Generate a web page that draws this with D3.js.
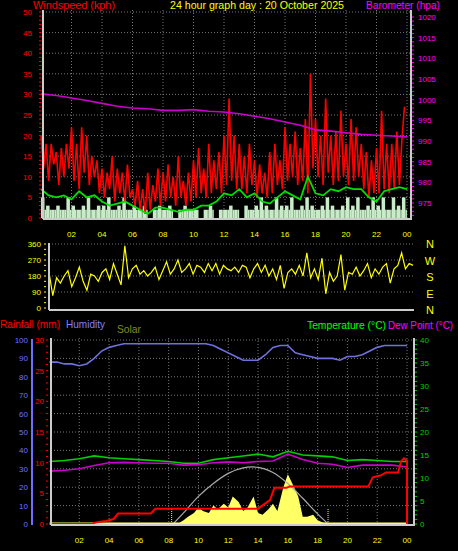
<!DOCTYPE html>
<html><head><meta charset="utf-8">
<script src="https://cdn.jsdelivr.net/npm/d3@7"></script>
<style>body{margin:0;background:#000}svg{display:block}text{font-family:"Liberation Sans",Arial,sans-serif}</style>
</head><body><svg id="chart" width="458" height="551"></svg>
<script>
// ---- data ----
var hourTicks = [2,4,6,8,10,12,14,16,18,20,22,24];
// gusts every 10 min
var gust = [20,12,18,9,18,13, 16,8,17,10,18,12, 22,9,18,7,22,11, 20,8,15,10,14,6,
  12,5,11,7,15,4, 12,6,11,4,13,5, 7,3,9,2,7,1, 11,2,8,4,12,3,
  11,4,13,5,10,3, 15,5,9,3,11,4, 14,5,17,6,12,5, 18,6,14,7,16,6,
  20,8,29,9,20,7, 18,7,15,6,18,8, 14,5,13,6,11,5, 16,6,18,8,14,7,
  22,9,18,10,21,8, 17,9,24,6,35,12, 24,10,20,8,29,11, 20,8,21,9,26,10,
  18,8,24,9,22,10, 18,7,16,5,14,6, 17,6,26,7,18,6, 18,7,21,8,19,27];
// average wind every 30 min
var avgWind = [7,5.5,5,5.5,4.5,6.5,5,5.5,4,3,3.5,4,3,2,1,2.5,2.5,2,1.5,2,2,3,3,4,
  6,5.5,7,5,6,4,3.5,5,6.5,5.5,4.5,10,6,5.5,7,6.5,7.5,7,7,5,4,6.5,7,7.5,7];
// wind speed every 20 min
var windSpeed = [5,3,2,3,2,5, 3,2,3,5,2,3, 3,5,2,3,5,2, 3,2,3,0,2,3, 2,3,0,2,3,2, 2,0,2,3,0,2,
  2,3,2,0,3,2, 3,5,3,2,5,3, 3,5,2,3,5,3, 2,3,5,3,2,3, 5,3,5,2,3,5, 3,5,2,5,3,5];
// barometer hourly
var baro = [1001.4,1001,1000.4,999.8,999.1,998.4,998.0,997.8,997.4,997.4,997.6,997.2,997.0,
  996.6,996.0,995.4,994.6,993.8,992.7,992.4,992.0,991.6,991.4,991.2,991.0];
// wind direction every 15 min
var windDir = [200,70,170,140, 180,210,120,170, 230,150,100,190, 180,150,200,220, 160,250,190,130,
  350,170,220,240, 190,210,180,200, 230,160,210,260, 190,220,270,200, 220,250,190,240,
  230,200,250,210, 250,190,240,220, 210,230,200,240, 230,170,220,250, 200,240,180,220,
  160,240,110,200, 220,190,240,180, 310,170,220,160, 280,80,200,150, 180,300,100,200,
  190,230,180,210, 250,170,220,190, 230,250,140,220, 240,310,220,250, 240];
// humidity every 30 min
var humidity = [88,88,87,87,86,87,90,94,96,97,98,98,98,98,98,98,98,98,98,98,98,98,97,95,
  93,91,89,89,89,92,96,97,97,93,92,91,90,90,90,89,91,91,92,94,96,97,97,97,97];
var temperature = [13.6,13.8,14.2,14.8,14.4,14.2,14.0,13.8,13.6,13.2,13.2,14.0,14.4,14.8,15.2,14.6,
  15.8,15.0,14.8,14.6,13.8,14.0,13.8,13.6,13.6];
var dewPoint = [11.5,11.7,12.0,12.7,13.3,13.4,13.3,13.2,13.2,12.8,12.9,13.3,13.5,13.3,13.6,13.7,
  15.2,14.0,13.2,13.0,12.3,12.8,12.8,12.8,12.4];
var rainT = [0,2.8,3.2,3.8,4.3,4.6,6.8,7.1,14,14.4,14.8,15.1,15.9,16.1,21.4,21.7,22.2,22.6,23.4,23.6,23.8,24,24];
var rainV = [0,0,0.3,0.5,0.8,1.7,1.7,2.5,2.5,3.2,3.9,5.9,5.9,6.1,6.1,7.6,7.9,8.4,8.4,10.2,10.7,10.3,0];
var solarT = [8.3,8.7,9,9.3,9.7,10,10.3,10.7,11,11.3,11.7,12,12.3,12.7,13,13.3,13.7,14,14.3,14.7,15,15.3,15.7,16,16.3,16.7,17,17.3,17.7,18,18.3,18.7];
var solarV = [0,5,20,40,60,90,70,60,100,80,110,90,150,120,70,90,150,60,50,80,110,70,200,270,220,150,40,40,50,20,10,0];
var solarMaxT = [8.3,9,10,11,12,13,13.6,14,15,16,17,18,18.7];
var solarMaxV = [0,60,150,220,275,305,310,308,280,220,140,55,0];
var sunTimes = [8.2, 18.7];

var svg = d3.select("#chart");
svg.append("rect").attr("width",458).attr("height",551).attr("fill","#000");
var fs = "8px";
function T(arr, step){ return arr.map(function(v,i){return [i*step, v];}); }

function grid(g, x, y, yTicks, x0, x1, y0, y1){
  g.selectAll(".gx").data(hourTicks).enter().append("line")
    .attr("x1",function(d){return x(d);}).attr("x2",function(d){return x(d);})
    .attr("y1",y0).attr("y2",y1).attr("stroke","#777").attr("stroke-dasharray","1,2");
  g.selectAll(".gy").data(yTicks).enter().append("line")
    .attr("x1",x0).attr("x2",x1).attr("y1",function(d){return y(d);}).attr("y2",function(d){return y(d);})
    .attr("stroke","#777").attr("stroke-dasharray","1,2");
}
function frame(x0,x1,y0,y1){
  svg.append("line").attr("x1",x0).attr("x2",x0).attr("y1",y0).attr("y2",y1+1).attr("stroke","#ccc").attr("stroke-width",2);
  svg.append("line").attr("x1",x0).attr("x2",x1).attr("y1",y1+1).attr("y2",y1+1).attr("stroke","#ccc").attr("stroke-width",2);
}
function vAxis(scale, ticks, xPos, color, anchorEnd, minor, tickX){
  var g = svg.append("g");
  g.selectAll("text").data(ticks).enter().append("text")
    .attr("x",xPos).attr("y",function(d){return scale(d)+3;})
    .attr("text-anchor",anchorEnd?"end":"start").attr("fill",color).style("font-size",fs)
    .text(function(d){return d;});
  if (minor) {
    g.selectAll("line").data(minor).enter().append("line")
      .attr("x1",tickX).attr("x2",tickX+2).attr("y1",function(d){return scale(d);}).attr("y2",function(d){return scale(d);})
      .attr("stroke",color);
  }
}
function hourLabels(x, yPos){
  svg.append("g").selectAll("text").data(hourTicks).enter().append("text")
    .attr("x",function(d){return x(d);}).attr("y",yPos).attr("text-anchor","middle")
    .attr("fill","#ffff00").style("font-size",fs).text(function(d){return d3.format("02")(d%24);});
}
function title(x, y, color, txt, len){
  svg.append("text").attr("x",x).attr("y",y).attr("fill",color)
    .attr("textLength",len).attr("lengthAdjust","spacingAndGlyphs")
    .style("font-size","11px").text(txt);
}

// ---- top panel: wind + barometer ----
var x1 = d3.scaleLinear().domain([0,24]).range([41,407]);
var yW = d3.scaleLinear().domain([0,50]).range([218,12]);
var yB = d3.scaleLinear().domain([975,1020]).range([203,17]);
var gTop = svg.append("g");
grid(gTop, x1, yW, d3.range(5,51,5), 43, 410, 10, 218);
gTop.selectAll(".ws").data(windSpeed).enter().append("rect")
  .attr("x",function(d,i){return x1(i/3);}).attr("width",3.5)
  .attr("y",function(d){return yW(d);}).attr("height",function(d){return yW(0)-yW(d);})
  .attr("fill","#c8ecc8");
gTop.selectAll(".ws2").data(windSpeed).enter().append("rect")
  .attr("x",function(d,i){return x1(i/3)+3.5;}).attr("width",1.5)
  .attr("y",function(d){return yW(Math.min(d,2));}).attr("height",function(d){return yW(0)-yW(Math.min(d,2));})
  .attr("fill","#c8ecc8");
var line = d3.line().x(function(d){return x1(d[0]);}).y(function(d){return yW(d[1]);});
gTop.append("path").datum(T(gust,1/6)).attr("d",line).attr("fill","none").attr("stroke","#ff0000").attr("stroke-width",1.6);
gTop.append("path").datum(T(avgWind,0.5)).attr("d",line).attr("fill","none").attr("stroke","#00e000").attr("stroke-width",1.8);
gTop.append("path").datum(T(baro,1)).attr("d",d3.line().x(function(d){return x1(d[0]);}).y(function(d){return yB(d[1]);}))
  .attr("fill","none").attr("stroke","#cc00cc").attr("stroke-width",1.6);
frame(43,410,10,218);
svg.append("line").attr("x1",411).attr("x2",411).attr("y1",10).attr("y2",220).attr("stroke","#ccc").attr("stroke-width",2);
vAxis(yW, d3.range(0,51,5), 32, "#ff0000", true, d3.range(0,51,1), 39);
vAxis(yB, d3.range(975,1021,5), 418, "#ff00ff", false, d3.range(972,1021,1), 412);
hourLabels(x1, 237);
title(33, 9, "#ff0000", "Windspeed (kph)", 82);
title(170, 9, "#ffff00", "24 hour graph day : 20 October 2025", 174);
title(366, 9, "#ff00ff", "Barometer (hpa)", 74);

// ---- wind direction panel ----
var x2 = d3.scaleLinear().domain([0,24]).range([49,413]);
var yD = d3.scaleLinear().domain([0,360]).range([308,244]);
var gDir = svg.append("g");
gDir.selectAll(".gy").data([90,180,270,360]).enter().append("line")
  .attr("x1",49).attr("x2",414).attr("y1",function(d){return yD(d);}).attr("y2",function(d){return yD(d);})
  .attr("stroke","#777").attr("stroke-dasharray","1,2");
gDir.append("path").datum(T(windDir,0.25)).attr("d",d3.line().x(function(d){return x2(d[0]);}).y(function(d){return yD(d[1]);}))
  .attr("fill","none").attr("stroke","#ffff00").attr("stroke-width",1.2);
frame(49,414,243,309);
vAxis(yD, [0,90,180,270,360], 41, "#ffff00", true, d3.range(0,361,30), 44);
svg.append("g").selectAll("text").data(["N","W","S","E","N"]).enter().append("text")
  .attr("x",430).attr("y",function(d,i){return 248+i*16.5;}).attr("text-anchor","middle")
  .attr("fill","#ffff00").style("font-size","11px").text(function(d){return d;});

// ---- bottom panel ----
var x3 = d3.scaleLinear().domain([0,24]).range([49.5,407]);
var yH = d3.scaleLinear().domain([0,100]).range([524,340]);
var yR = d3.scaleLinear().domain([0,30]).range([524,340]);
var yT = d3.scaleLinear().domain([0,40]).range([524,340]);
var yS = d3.scaleLinear().domain([0,1000]).range([524,340]);
var gBot = svg.append("g");
grid(gBot, x3, yH, d3.range(10,101,10), 51, 413, 338, 524);
gBot.append("path").datum(solarT.map(function(t,i){return [t,solarV[i]];}))
  .attr("d",d3.area().x(function(d){return x3(d[0]);}).y0(yS(0)).y1(function(d){return yS(d[1]);}))
  .attr("fill","#ffff66");
gBot.selectAll(".sun").data(sunTimes).enter().append("line")
  .attr("x1",function(d){return x3(d);}).attr("x2",function(d){return x3(d);}).attr("y1",509).attr("y2",524)
  .attr("stroke","#ffff00").attr("stroke-dasharray","1,1");
gBot.append("path").datum(solarMaxT.map(function(t,i){return [t,solarMaxV[i]];}))
  .attr("d",d3.line().curve(d3.curveMonotoneX).x(function(d){return x3(d[0]);}).y(function(d){return yS(d[1]);}))
  .attr("fill","none").attr("stroke","#aaa").attr("stroke-width",1.2);
function lineOn(data, step, y, color, w){
  gBot.append("path").datum(T(data,step)).attr("d",d3.line().x(function(d){return x3(d[0]);}).y(function(d){return y(d[1]);}))
    .attr("fill","none").attr("stroke",color).attr("stroke-width",w);
}
lineOn(humidity, 0.5, yH, "#7070e0", 1.6);
lineOn(temperature, 1, yT, "#00d000", 1.6);
lineOn(dewPoint, 1, yT, "#cc00cc", 1.6);
gBot.append("line").attr("x1",x3(0)).attr("x2",x3(24)).attr("y1",yR(0)-0.5).attr("y2",yR(0)-0.5).attr("stroke","#ffff66").attr("stroke-width",2);
gBot.append("path").datum(rainT.map(function(t,i){return [t,rainV[i]];}))
  .attr("d",d3.line().x(function(d){return x3(d[0]);}).y(function(d){return yR(d[1]);}))
  .attr("fill","none").attr("stroke","#ff0000").attr("stroke-width",2);
frame(51,413,338,524);
svg.append("line").attr("x1",414).attr("x2",414).attr("y1",338).attr("y2",526).attr("stroke","#ccc").attr("stroke-width",2);
svg.append("line").attr("x1",32).attr("x2",32).attr("y1",339).attr("y2",525).attr("stroke","#7070ff").attr("stroke-width",2);
vAxis(yH, d3.range(0,101,10), 28, "#7070ff", true, null);
vAxis(yR, d3.range(0,31,5), 44, "#ff0000", true, d3.range(0,31,1), 46);
vAxis(yT, d3.range(0,41,5), 420, "#00d000", false, d3.range(0,41,1), 415);
hourLabels(x3, 543);
title(0, 328, "#ff0000", "Rainfall (mm)", 60);
title(66, 328, "#8080ff", "Humidity", 39);
title(117, 333, "#888822", "Solar", 24);
title(307, 329, "#00ff00", "Temperature (°C)", 79);
title(388, 329, "#ff00ff", "Dew Point (°C)", 65);
</script></body></html>
